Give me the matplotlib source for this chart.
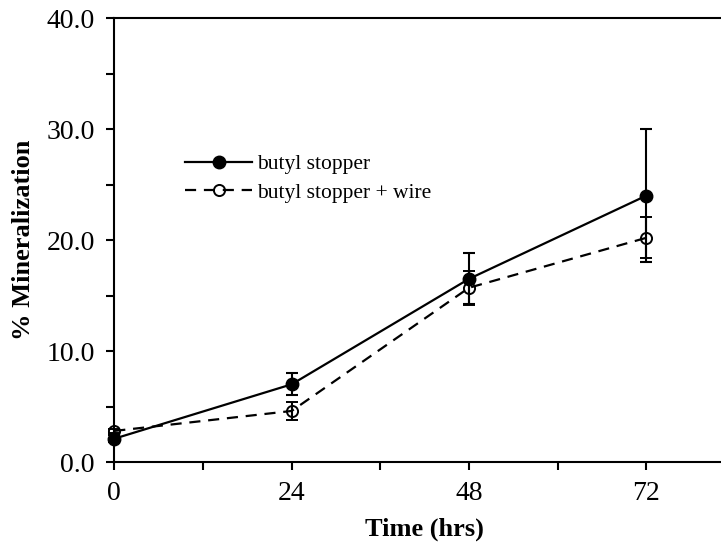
import matplotlib.pyplot as plt
from matplotlib.lines import Line2D
from matplotlib.ticker import MultipleLocator, FormatStrFormatter

# mineralization over time, two closure types
hours = [0, 24, 48, 72]
butyl = [2.1, 7.0, 16.5, 24.0]
butyl_err = [0.3, 1.0, 2.3, 6.0]
wire = [2.8, 4.6, 15.7, 20.2]
wire_err = [0.2, 0.85, 1.55, 1.85]

plt.rcParams['font.family'] = ['Liberation Serif', 'DejaVu Serif']

fig = plt.figure(figsize=(7.21, 5.44), dpi=100)
ax = fig.add_axes([0.1585, 0.1507, 0.861, 0.8162])

dash = (0, (5, 3.5))
ax.errorbar(hours, butyl, yerr=butyl_err, color='black', lw=1.6, ls='-',
            marker='o', ms=9, mfc='black', mec='black',
            elinewidth=1.5, capsize=4.5, capthick=1.5,
            clip_on=False, zorder=3)
ax.errorbar(hours, wire, yerr=wire_err, color='black', lw=1.6, ls=dash,
            marker='o', ms=8, mfc='none', mec='black', mew=1.4,
            elinewidth=1.5, capsize=4.5, capthick=1.5,
            clip_on=False, zorder=4)

ax.set_xlim(0, 84)
ax.set_ylim(0, 40)
ax.xaxis.set_major_locator(MultipleLocator(24))
ax.xaxis.set_minor_locator(MultipleLocator(12))
ax.yaxis.set_major_locator(MultipleLocator(10))
ax.yaxis.set_minor_locator(MultipleLocator(5))
ax.yaxis.set_major_formatter(FormatStrFormatter('%.1f'))

ax.tick_params(which='both', direction='out', width=1.5, labelsize=20,
               top=False, right=False)
ax.tick_params(which='major', length=6, pad=8)
ax.tick_params(which='minor', length=6)
for s in ax.spines.values():
    s.set_linewidth(1.5)
ax.spines['right'].set_visible(False)

ax.set_xlabel('Time (hrs)', fontsize=19, fontweight='bold', labelpad=8)
ax.set_ylabel('% Mineralization', fontsize=19, fontweight='bold', labelpad=8)

handles = [
    Line2D([], [], color='black', lw=1.6, marker='o', ms=9, mfc='black'),
    Line2D([], [], color='black', lw=1.6, ls=dash, marker='o', ms=8,
           mfc='none', mew=1.4),
]
ax.legend(handles, ['butyl stopper', 'butyl stopper + wire'],
          loc='upper left', bbox_to_anchor=(0.083, 0.737), frameon=False,
          fontsize=15.5, handlelength=3.1, handletextpad=0.25,
          labelspacing=0.4)

fig.savefig('out.png', dpi=100)
